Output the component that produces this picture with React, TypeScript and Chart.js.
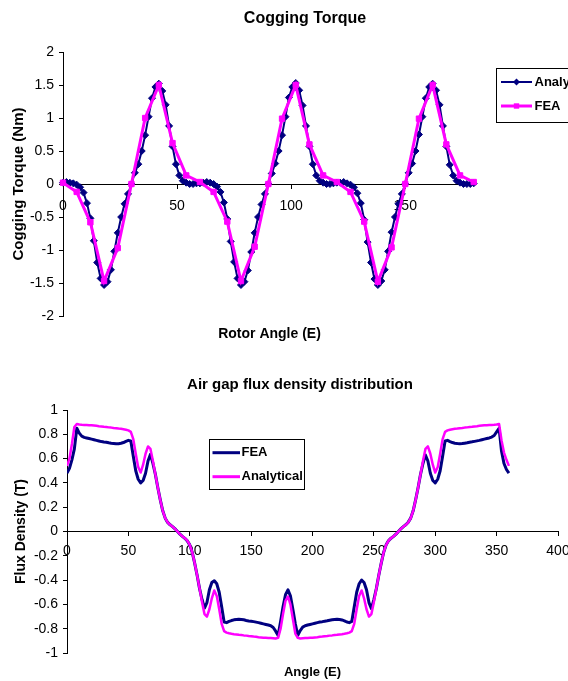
import React, { useEffect, useRef } from 'react';
import { Chart, registerables } from 'chart.js';

Chart.register(...registerables);

const FONT = "'Liberation Sans', Arial, sans-serif";
Chart.defaults.font.family = FONT;
Chart.defaults.color = '#000000';

// ---------------- Cogging torque (top chart) ----------------
const torqueAnalyticalAngle = [
  0, 1.5, 3, 4.5, 6, 7.5, 9, 10.5, 12, 13.5, 15, 16.5, 18, 19.5, 21, 22.5, 24, 25.5, 27, 28.5,
  30, 31.5, 33, 34.5, 36, 37.5, 39, 40.5, 42, 43.5, 45, 46.5, 48, 49.5, 51, 52.5, 54, 55.5, 57, 58.5,
  60, 61.5, 63, 64.5, 66, 67.5, 69, 70.5, 72, 73.5, 75, 76.5, 78, 79.5, 81, 82.5, 84, 85.5, 87, 88.5,
  90, 91.5, 93, 94.5, 96, 97.5, 99, 100.5, 102, 103.5, 105, 106.5, 108, 109.5, 111, 112.5, 114, 115.5, 117, 118.5,
  120, 121.5, 123, 124.5, 126, 127.5, 129, 130.5, 132, 133.5, 135, 136.5, 138, 139.5, 141, 142.5, 144, 145.5, 147, 148.5,
  150, 151.5, 153, 154.5, 156, 157.5, 159, 160.5, 162, 163.5, 165, 166.5, 168, 169.5, 171, 172.5, 174, 175.5, 177, 178.5,
  180,
];
const torqueAnalytical = [
  0.02, 0.03, 0.02, 0.01, -0.01, -0.05, -0.13, -0.29, -0.52, -0.86, -1.19, -1.43, -1.53, -1.48, -1.3, -1.02, -0.74, -0.5, -0.3, -0.15,
  0.0, 0.17, 0.3, 0.5, 0.74, 1.02, 1.3, 1.47, 1.52, 1.41, 1.2, 0.88, 0.57, 0.3, 0.13, 0.05, 0.02, 0.0, 0.0, 0.01,
  0.01, 0.02, 0.03, 0.02, 0.0, -0.04, -0.12, -0.28, -0.53, -0.87, -1.18, -1.43, -1.53, -1.48, -1.31, -1.03, -0.74, -0.5, -0.31, -0.15,
  0.0, 0.16, 0.31, 0.5, 0.74, 1.02, 1.31, 1.47, 1.53, 1.42, 1.19, 0.88, 0.57, 0.3, 0.13, 0.05, 0.02, 0.0, 0.0, 0.01,
  0.02, 0.02, 0.03, 0.01, -0.01, -0.05, -0.14, -0.29, -0.54, -0.88, -1.19, -1.44, -1.53, -1.47, -1.3, -1.02, -0.73, -0.5, -0.3, -0.15,
  0.0, 0.17, 0.31, 0.5, 0.75, 1.02, 1.3, 1.47, 1.52, 1.42, 1.2, 0.88, 0.57, 0.29, 0.13, 0.05, 0.02, 0.0, 0.0, 0.0,
  0.01,
];
const torqueFeaAngle = [
  0, 6, 12, 18, 24, 30, 36, 42, 48, 54, 60, 66, 72, 78, 84, 90, 96, 102, 108, 114,
  120, 126, 132, 138, 144, 150, 156, 162, 168, 174, 180,
];
const torqueFea = [
  0.02, -0.12, -0.58, -1.47, -0.97, 0.0, 1.0, 1.5, 0.62, 0.13,
  0.03, -0.12, -0.57, -1.47, -0.95, 0.0, 0.99, 1.5, 0.6, 0.13,
  0.03, -0.12, -0.57, -1.48, -0.96, 0.0, 0.99, 1.5, 0.6, 0.13, 0.03,
];

// ---------------- Air gap flux density (bottom chart) ----------------
const fluxAngle = [
  0, 2, 4, 6, 8, 10, 12, 14, 16, 18, 20, 22, 24, 26, 28, 30, 32, 34, 36, 38,
  40, 42, 44, 46, 48, 50, 52, 54, 56, 58, 60, 62, 64, 66, 68, 70, 72, 74, 76, 78,
  80, 82, 84, 86, 88, 90, 92, 94, 96, 98, 100, 102, 104, 106, 108, 110, 112, 114, 116, 118,
  120, 122, 124, 126, 128, 130, 132, 134, 136, 138, 140, 142, 144, 146, 148, 150, 152, 154, 156, 158,
  160, 162, 164, 166, 168, 170, 172, 174, 176, 178, 180, 182, 184, 186, 188, 190, 192, 194, 196, 198,
  200, 202, 204, 206, 208, 210, 212, 214, 216, 218, 220, 222, 224, 226, 228, 230, 232, 234, 236, 238,
  240, 242, 244, 246, 248, 250, 252, 254, 256, 258, 260, 262, 264, 266, 268, 270, 272, 274, 276, 278,
  280, 282, 284, 286, 288, 290, 292, 294, 296, 298, 300, 302, 304, 306, 308, 310, 312, 314, 316, 318,
  320, 322, 324, 326, 328, 330, 332, 334, 336, 338, 340, 342, 344, 346, 348, 350, 352, 354, 356, 358,
  360,
];
const fluxFea = [
  0.48, 0.52, 0.59, 0.68, 0.85, 0.81, 0.785, 0.775, 0.77, 0.765, 0.76, 0.755, 0.75, 0.745, 0.74, 0.737, 0.735, 0.73, 0.727, 0.725,
  0.722, 0.723, 0.726, 0.732, 0.742, 0.75, 0.745, 0.62, 0.5, 0.43, 0.4, 0.42, 0.48, 0.58, 0.635, 0.56, 0.47, 0.36, 0.26, 0.17,
  0.11, 0.075, 0.055, 0.04, 0.022, 0.0,
  -0.022, -0.04, -0.056, -0.077, -0.11, -0.17, -0.26, -0.36, -0.47, -0.56, -0.63, -0.585, -0.48, -0.42, -0.405, -0.43, -0.5, -0.62, -0.745, -0.75,
  -0.74, -0.733, -0.727, -0.724, -0.722, -0.724, -0.727, -0.732, -0.736, -0.738, -0.742, -0.746, -0.75, -0.755, -0.76, -0.765, -0.77, -0.776, -0.79, -0.82,
  -0.855, -0.74, -0.62, -0.52, -0.48,
  -0.53, -0.64, -0.76, -0.855, -0.815, -0.787, -0.776, -0.77, -0.765, -0.76, -0.755, -0.75, -0.745, -0.742, -0.738, -0.735, -0.73, -0.727, -0.724, -0.722,
  -0.724, -0.728, -0.735, -0.745, -0.75, -0.74, -0.62, -0.5, -0.43, -0.4, -0.42, -0.48, -0.585, -0.635, -0.56, -0.47, -0.36, -0.26, -0.17, -0.11,
  -0.075, -0.055, -0.04, -0.022, 0.0,
  0.022, 0.04, 0.055, 0.077, 0.11, 0.17, 0.26, 0.36, 0.47, 0.56, 0.63, 0.58, 0.48, 0.42, 0.4, 0.43, 0.5, 0.62, 0.745, 0.75,
  0.74, 0.732, 0.727, 0.724, 0.722, 0.724, 0.727, 0.73, 0.735, 0.738, 0.742, 0.746, 0.75, 0.755, 0.76, 0.765, 0.77, 0.777, 0.79, 0.82,
  0.85, 0.66, 0.56, 0.51, 0.48,
];
const fluxAnalytical = [
  0.54, 0.6, 0.72, 0.86, 0.885, 0.88, 0.878, 0.877, 0.876, 0.875, 0.874, 0.872, 0.87, 0.867, 0.865, 0.862, 0.86, 0.857, 0.855, 0.852,
  0.85, 0.847, 0.845, 0.842, 0.838, 0.832, 0.82, 0.76, 0.64, 0.53, 0.485, 0.55, 0.64, 0.7, 0.68, 0.58, 0.47, 0.36, 0.26, 0.17,
  0.11, 0.075, 0.055, 0.04, 0.022, 0.0,
  -0.022, -0.04, -0.055, -0.076, -0.11, -0.17, -0.26, -0.36, -0.47, -0.58, -0.68, -0.7, -0.64, -0.55, -0.485, -0.53, -0.64, -0.76, -0.82, -0.832,
  -0.838, -0.842, -0.845, -0.847, -0.85, -0.852, -0.855, -0.857, -0.86, -0.862, -0.865, -0.867, -0.87, -0.872, -0.874, -0.875, -0.876, -0.877, -0.878, -0.88,
  -0.875, -0.8, -0.68, -0.57, -0.535,
  -0.6, -0.72, -0.84, -0.875, -0.88, -0.878, -0.877, -0.876, -0.875, -0.874, -0.872, -0.87, -0.867, -0.865, -0.862, -0.86, -0.857, -0.855, -0.852, -0.85,
  -0.847, -0.845, -0.842, -0.838, -0.832, -0.82, -0.76, -0.64, -0.53, -0.485, -0.55, -0.64, -0.7, -0.68, -0.58, -0.47, -0.36, -0.26, -0.17, -0.11,
  -0.075, -0.055, -0.04, -0.022, 0.0,
  0.022, 0.04, 0.055, 0.075, 0.11, 0.17, 0.26, 0.36, 0.47, 0.58, 0.68, 0.7, 0.64, 0.55, 0.485, 0.53, 0.64, 0.76, 0.82, 0.832,
  0.838, 0.842, 0.845, 0.847, 0.85, 0.852, 0.855, 0.857, 0.86, 0.862, 0.865, 0.867, 0.87, 0.872, 0.874, 0.875, 0.876, 0.877, 0.878, 0.88,
  0.885, 0.75, 0.65, 0.59, 0.54,
];

const NAVY = '#000080';
const MAGENTA = '#FF00FF';

const pairs = (xs: number[], ys: number[]) => xs.map((x, i) => ({ x, y: ys[i] }));
const plainTick = (v: any) => String(Math.round(Number(v) * 100) / 100);

// Boxed legend, drawn on the chart canvas from the datasets' own labels and styles
const boxLegend = {
  id: 'boxLegend',
  afterDraw(chart: any, _args: any, o: any) {
    if (!o || !o.show) return;
    const ctx = chart.ctx;
    ctx.save();
    ctx.fillStyle = '#ffffff';
    ctx.fillRect(o.left, o.top, o.width, o.height);
    ctx.strokeStyle = '#000000';
    ctx.lineWidth = 1;
    ctx.strokeRect(o.left + 0.5, o.top + 0.5, o.width, o.height);
    chart.data.datasets.forEach((ds: any, i: number) => {
      const y = o.rows[i];
      ctx.strokeStyle = ds.borderColor;
      ctx.lineWidth = o.lineWidths[i];
      ctx.beginPath();
      ctx.moveTo(o.lineFrom, y);
      ctx.lineTo(o.lineTo, y);
      ctx.stroke();
      const r = ds.pointRadius || 0;
      if (r > 0) {
        const cx = (o.lineFrom + o.lineTo) / 2;
        ctx.fillStyle = ds.pointBackgroundColor || ds.borderColor;
        ctx.beginPath();
        if (ds.pointStyle === 'rectRot') {
          ctx.moveTo(cx - r, y);
          ctx.lineTo(cx, y - r);
          ctx.lineTo(cx + r, y);
          ctx.lineTo(cx, y + r);
          ctx.closePath();
        } else {
          const s = r * Math.SQRT1_2;
          ctx.rect(cx - s, y - s, 2 * s, 2 * s);
        }
        ctx.fill();
      }
      ctx.fillStyle = '#000000';
      ctx.font = o.labelFont;
      ctx.textAlign = 'left';
      ctx.textBaseline = 'middle';
      ctx.fillText(ds.label, o.textX, y);
    });
    ctx.restore();
  },
};

function TorqueChart() {
  const ref = useRef<HTMLCanvasElement>(null);
  useEffect(() => {
    const chart = new Chart(ref.current as HTMLCanvasElement, {
      type: 'line',
      data: {
        datasets: [
          {
            label: 'Analytical',
            data: pairs(torqueAnalyticalAngle, torqueAnalytical),
            borderColor: NAVY,
            backgroundColor: NAVY,
            borderWidth: 2,
            pointStyle: 'rectRot',
            pointRadius: 3.5,
            pointBorderWidth: 1,
            pointBackgroundColor: NAVY,
            pointBorderColor: NAVY,
            tension: 0,
            clip: false,
            order: 1,
            xAxisID: 'x',
            yAxisID: 'y',
          },
          {
            label: 'FEA',
            data: pairs(torqueFeaAngle, torqueFea),
            borderColor: MAGENTA,
            backgroundColor: MAGENTA,
            borderWidth: 3,
            pointStyle: 'rect',
            pointRadius: 3.8,
            pointBorderWidth: 1,
            pointBackgroundColor: MAGENTA,
            pointBorderColor: MAGENTA,
            tension: 0,
            clip: false,
            order: 0,
            xAxisID: 'x',
            yAxisID: 'y',
          },
        ],
      } as any,
      options: {
        responsive: false,
        maintainAspectRatio: false,
        animation: false,
        events: [],
        layout: { padding: 0 },
        plugins: {
          legend: { display: false },
          tooltip: { enabled: false },
          title: {
            display: true,
            text: 'Cogging Torque',
            color: '#000000',
            font: { family: FONT, size: 16, weight: 'bold', lineHeight: 1.2 },
            padding: { top: 9.4, bottom: 23.4 },
          },
          boxLegend: {
            show: true,
            left: 496,
            top: 68,
            width: 130,
            height: 54,
            rows: [82, 106],
            lineWidths: [2, 3],
            lineFrom: 501,
            lineTo: 532,
            textX: 534.5,
            labelFont: `bold 13px ${FONT}`,
          },
        } as any,
        scales: {
          x: {
            type: 'linear',
            axis: 'x',
            position: { y: 0 },
            min: 0,
            max: 181,
            ticks: { stepSize: 50, includeBounds: false, autoSkip: false, maxRotation: 0, padding: 9.6, color: '#000000', font: { size: 14 }, callback: plainTick },
            grid: { display: true, drawOnChartArea: false, drawTicks: true, tickLength: 4, color: '#000000' },
            border: { display: true, color: '#000000', width: 1 },
            afterFit: (s: any) => { s.height = 0; },
          },
          xt: {
            type: 'linear',
            axis: 'x',
            position: 'bottom',
            min: 0,
            max: 181,
            ticks: { display: false },
            grid: { display: false },
            border: { display: false },
            title: { display: true, text: 'Rotor Angle (E)', color: '#000000', font: { size: 14, weight: 'bold', lineHeight: 1.2 }, padding: { top: 0, bottom: 2.1 } },
            afterFit: (s: any) => { s.height = 29; },
          },
          y: {
            type: 'linear',
            position: 'left',
            min: -2,
            max: 2,
            ticks: { stepSize: 0.5, padding: 5, color: '#000000', font: { size: 14 }, callback: plainTick },
            grid: { display: true, drawOnChartArea: false, drawTicks: true, tickLength: 4, color: '#000000' },
            border: { display: true, color: '#000000', width: 1 },
            title: { display: true, text: 'Cogging Torque (Nm)', color: '#000000', font: { size: 15, weight: 'bold', lineHeight: 1.2 }, padding: { top: 9.5, bottom: 0 } },
            afterFit: (s: any) => { s.width = 63; },
          },
          yr: {
            type: 'linear',
            axis: 'y',
            position: 'right',
            min: 0,
            max: 1,
            ticks: { display: false },
            grid: { display: false },
            border: { display: false },
            afterFit: (s: any) => { s.width = 134; },
          },
        } as any,
      },
      plugins: [boxLegend as any],
    });
    return () => chart.destroy();
  }, []);
  return (
    <canvas
      ref={ref}
      width={610}
      height={345}
      style={{ position: 'absolute', left: 0, top: 0, width: 610, height: 345 }}
    />
  );
}

function FluxChart() {
  const ref = useRef<HTMLCanvasElement>(null);
  useEffect(() => {
    const chart = new Chart(ref.current as HTMLCanvasElement, {
      type: 'line',
      data: {
        datasets: [
          {
            label: 'FEA',
            data: pairs(fluxAngle, fluxFea),
            borderColor: NAVY,
            backgroundColor: NAVY,
            borderWidth: 3,
            pointRadius: 0,
            tension: 0,
            borderJoinStyle: 'round',
            order: 1,
            xAxisID: 'x',
            yAxisID: 'y',
          },
          {
            label: 'Analytical',
            data: pairs(fluxAngle, fluxAnalytical),
            borderColor: MAGENTA,
            backgroundColor: MAGENTA,
            borderWidth: 2.5,
            pointRadius: 0,
            tension: 0,
            borderJoinStyle: 'round',
            order: 0,
            xAxisID: 'x',
            yAxisID: 'y',
          },
        ],
      } as any,
      options: {
        responsive: false,
        maintainAspectRatio: false,
        animation: false,
        events: [],
        layout: { padding: 0 },
        plugins: {
          legend: { display: false },
          tooltip: { enabled: false },
          title: {
            display: true,
            text: 'Air gap flux density distribution',
            color: '#000000',
            font: { family: FONT, size: 15, weight: 'bold', lineHeight: 1.2 },
            padding: { top: 30.7, bottom: 16.3 },
          },
          boxLegend: {
            show: true,
            left: 209,
            top: 94,
            width: 95,
            height: 50,
            rows: [107.7, 131.7],
            lineWidths: [3, 3],
            lineFrom: 212.5,
            lineTo: 240,
            textX: 241.5,
            labelFont: `bold 13px ${FONT}`,
          },
        } as any,
        scales: {
          x: {
            type: 'linear',
            axis: 'x',
            position: { y: 0 },
            min: 0,
            max: 400,
            ticks: { stepSize: 50, autoSkip: false, maxRotation: 0, padding: 7.2, color: '#000000', font: { size: 14 }, callback: plainTick },
            grid: { display: true, drawOnChartArea: false, drawTicks: true, tickLength: 4, color: '#000000' },
            border: { display: true, color: '#000000', width: 1 },
            afterFit: (s: any) => { s.height = 0; },
          },
          xt: {
            type: 'linear',
            axis: 'x',
            position: 'bottom',
            min: 0,
            max: 400,
            ticks: { display: false },
            grid: { display: false },
            border: { display: false },
            title: { display: true, text: 'Angle (E)', color: '#000000', font: { size: 13, weight: 'bold', lineHeight: 1.2 }, padding: { top: 0, bottom: 0.7 } },
            afterFit: (s: any) => { s.height = 28; },
          },
          y: {
            type: 'linear',
            position: 'left',
            min: -1,
            max: 1,
            ticks: { stepSize: 0.2, padding: 5, color: '#000000', font: { size: 14 }, callback: plainTick },
            grid: { display: true, drawOnChartArea: false, drawTicks: true, tickLength: 4, color: '#000000' },
            border: { display: true, color: '#000000', width: 1 },
            title: { display: true, text: 'Flux Density (T)', color: '#000000', font: { size: 14, weight: 'bold', lineHeight: 1.2 }, padding: { top: 13.1, bottom: 0 } },
            afterFit: (s: any) => { s.width = 67; },
          },
          yr: {
            type: 'linear',
            axis: 'y',
            position: 'right',
            min: 0,
            max: 1,
            ticks: { display: false },
            grid: { display: false },
            border: { display: false },
            afterFit: (s: any) => { s.width = 42; },
          },
        } as any,
      },
      plugins: [boxLegend as any],
    });
    return () => chart.destroy();
  }, []);
  return (
    <canvas
      ref={ref}
      width={600}
      height={336}
      style={{ position: 'absolute', left: 0, top: 345, width: 600, height: 336 }}
    />
  );
}

export default function App() {
  return (
    <div
      style={{
        position: 'fixed',
        left: 0,
        top: 0,
        width: 568,
        height: 681,
        overflow: 'hidden',
        background: '#ffffff',
      }}
    >
      <TorqueChart />
      <FluxChart />
    </div>
  );
}
